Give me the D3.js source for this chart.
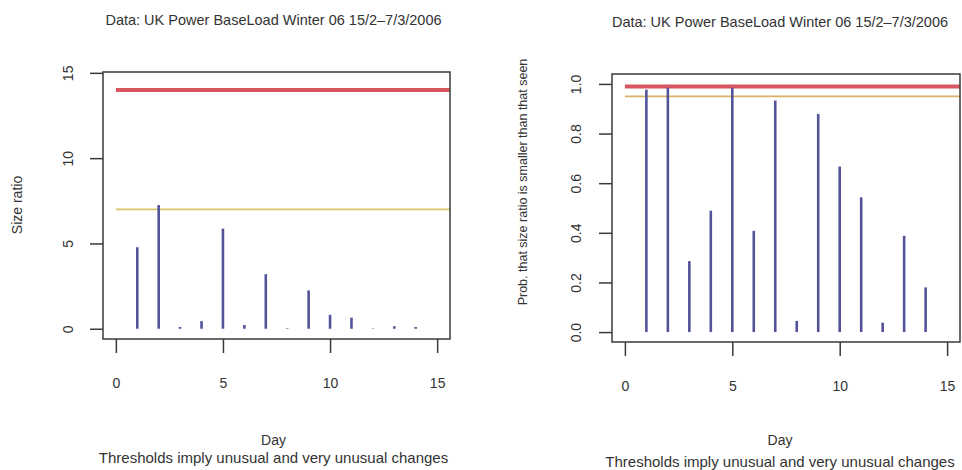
<!DOCTYPE html>
<html>
<head>
<meta charset="utf-8">
<script src="https://cdn.jsdelivr.net/npm/d3@7"></script>
<style>
  body { margin: 0; background: #fff; }
  svg text { font-family: "Liberation Sans", Arial, sans-serif; fill: #333; }
</style>
</head>
<body>
<svg id="chart" width="962" height="470"></svg>
<script>
// data
var days = [1, 2, 3, 4, 5, 6, 7, 8, 9, 10, 11, 12, 13, 14];
var sizeRatio = [4.78, 7.25, 0.1, 0.45, 5.87, 0.22, 3.2, 0.03, 2.25, 0.82, 0.65, 0.02, 0.15, 0.1];
var probSmaller = [0.977, 0.985, 0.286, 0.489, 0.985, 0.408, 0.933, 0.045, 0.879, 0.667, 0.543, 0.038, 0.388, 0.18];
var ratioThresholds = [7.0, 14.0];      // unusual, very unusual
var probThresholds = [0.95, 0.99];
var xTicks = [0, 5, 10, 15];
var ratioTicks = [0, 5, 10, 15];
var probTicks = [0, 0.2, 0.4, 0.6, 0.8, 1.0];

var titleText = 'Data: UK Power BaseLoad Winter 06 15/2\u20137/3/2006';
var subText = 'Thresholds imply unusual and very unusual changes';

var svg = d3.select('#chart');

// one panel = box, axes, spikes and two threshold lines
function drawPanel(opt) {
  var x = d3.scaleLinear().domain([-0.6, 15.6]).range([opt.left, opt.right]);
  var y = d3.scaleLinear().domain(opt.ydom).range([opt.bottom, opt.top]);
  var g = svg.append('g');

  // thresholds (yellow thin, red thick)
  g.selectAll('line.thr')
      .data(opt.thr)
    .enter().append('line')
      .attr('class', 'thr')
      .attr('x1', x(0))
      .attr('x2', opt.right)
      .attr('y1', (d) => y(d))
      .attr('y2', (d) => y(d))
      .attr('stroke', (d, i) => i == 0 ? opt.yellow : '#d9565f')
      .attr('stroke-width', (d, i) => i == 0 ? 1.8 : 4);

  // spikes
  g.selectAll('line.spike')
      .data(days)
    .enter().append('line')
      .attr('class', 'spike')
      .attr('x1', (d) => x(d))
      .attr('x2', (d) => x(d))
      .attr('y1', y(0))
      .attr('y2', (d, i) => y(opt.values[i]))
      .attr('stroke', '#53539a')
      .attr('stroke-width', 2.6);

  // box
  g.append('rect')
      .attr('x', opt.left).attr('y', opt.top)
      .attr('width', opt.right - opt.left).attr('height', opt.bottom - opt.top)
      .attr('fill', 'none').attr('stroke', '#3a3a3a').attr('stroke-width', 1.5);

  // x axis: ticks below the box, labels well below
  var xa = g.append('g').attr('transform', `translate(0,${opt.bottom})`)
      .call(d3.axisBottom(x).tickValues(xTicks).tickSize(14).tickPadding(25).tickFormat(d3.format('d')));
  xa.select('.domain').remove();
  xa.selectAll('line').attr('stroke', '#3a3a3a').attr('stroke-width', 1.5);
  xa.selectAll('text').attr('font-size', 14).attr('fill', '#333');

  // y axis with rotated labels (R style)
  var ya = g.append('g').attr('transform', `translate(${opt.left},0)`)
      .call(d3.axisLeft(y).tickValues(opt.yticks).tickSize(13).tickPadding(0).tickFormat(opt.yfmt));
  ya.select('.domain').remove();
  ya.selectAll('line').attr('stroke', '#3a3a3a').attr('stroke-width', 1.5);
  ya.selectAll('text')
      .attr('font-size', 14).attr('fill', '#333')
      .attr('x', null).attr('dy', null)
      .attr('text-anchor', 'middle')
      .attr('transform', `translate(${opt.tickLabelX - opt.left},0) rotate(-90)`)
      .attr('dy', '0.35em');

  var cx = (opt.left + opt.right) / 2 + opt.titleShift;
  svg.append('text').attr('x', cx).attr('y', opt.titleY)
      .attr('text-anchor', 'middle').attr('font-size', 14.5).text(titleText);
  svg.append('text').attr('x', cx).attr('y', 445)
      .attr('text-anchor', 'middle').attr('font-size', 14).text('Day');
  svg.append('text').attr('x', cx).attr('y', opt.subY)
      .attr('text-anchor', 'middle').attr('font-size', 15).text(subText);
  svg.append('text')
      .attr('transform', `translate(${opt.ylabX},${opt.ylabY}) rotate(-90)`)
      .attr('text-anchor', 'middle').attr('font-size', opt.ylabSize).text(opt.ylab);
}

drawPanel({
  left: 103, right: 450, top: 72, bottom: 339,
  ydom: [-0.6, 15.05], values: sizeRatio, thr: ratioThresholds,
  yticks: ratioTicks, yfmt: d3.format('d'), yellow: '#d6c36a',
  tickLabelX: 68, ylab: 'Size ratio', ylabX: 22, ylabY: 205, ylabSize: 14,
  titleY: 25, subY: 463, titleShift: -3
});

drawPanel({
  left: 612, right: 960, top: 74, bottom: 342,
  ydom: [-0.04, 1.04], values: probSmaller, thr: probThresholds,
  yticks: probTicks, yfmt: d3.format('.1f'), yellow: '#d9b26a',
  tickLabelX: 576, ylab: 'Prob. that size ratio is smaller than that seen', ylabX: 527, ylabY: 182, ylabSize: 12.5,
  titleY: 27, subY: 467, titleShift: -6
});
</script>
</body>
</html>
